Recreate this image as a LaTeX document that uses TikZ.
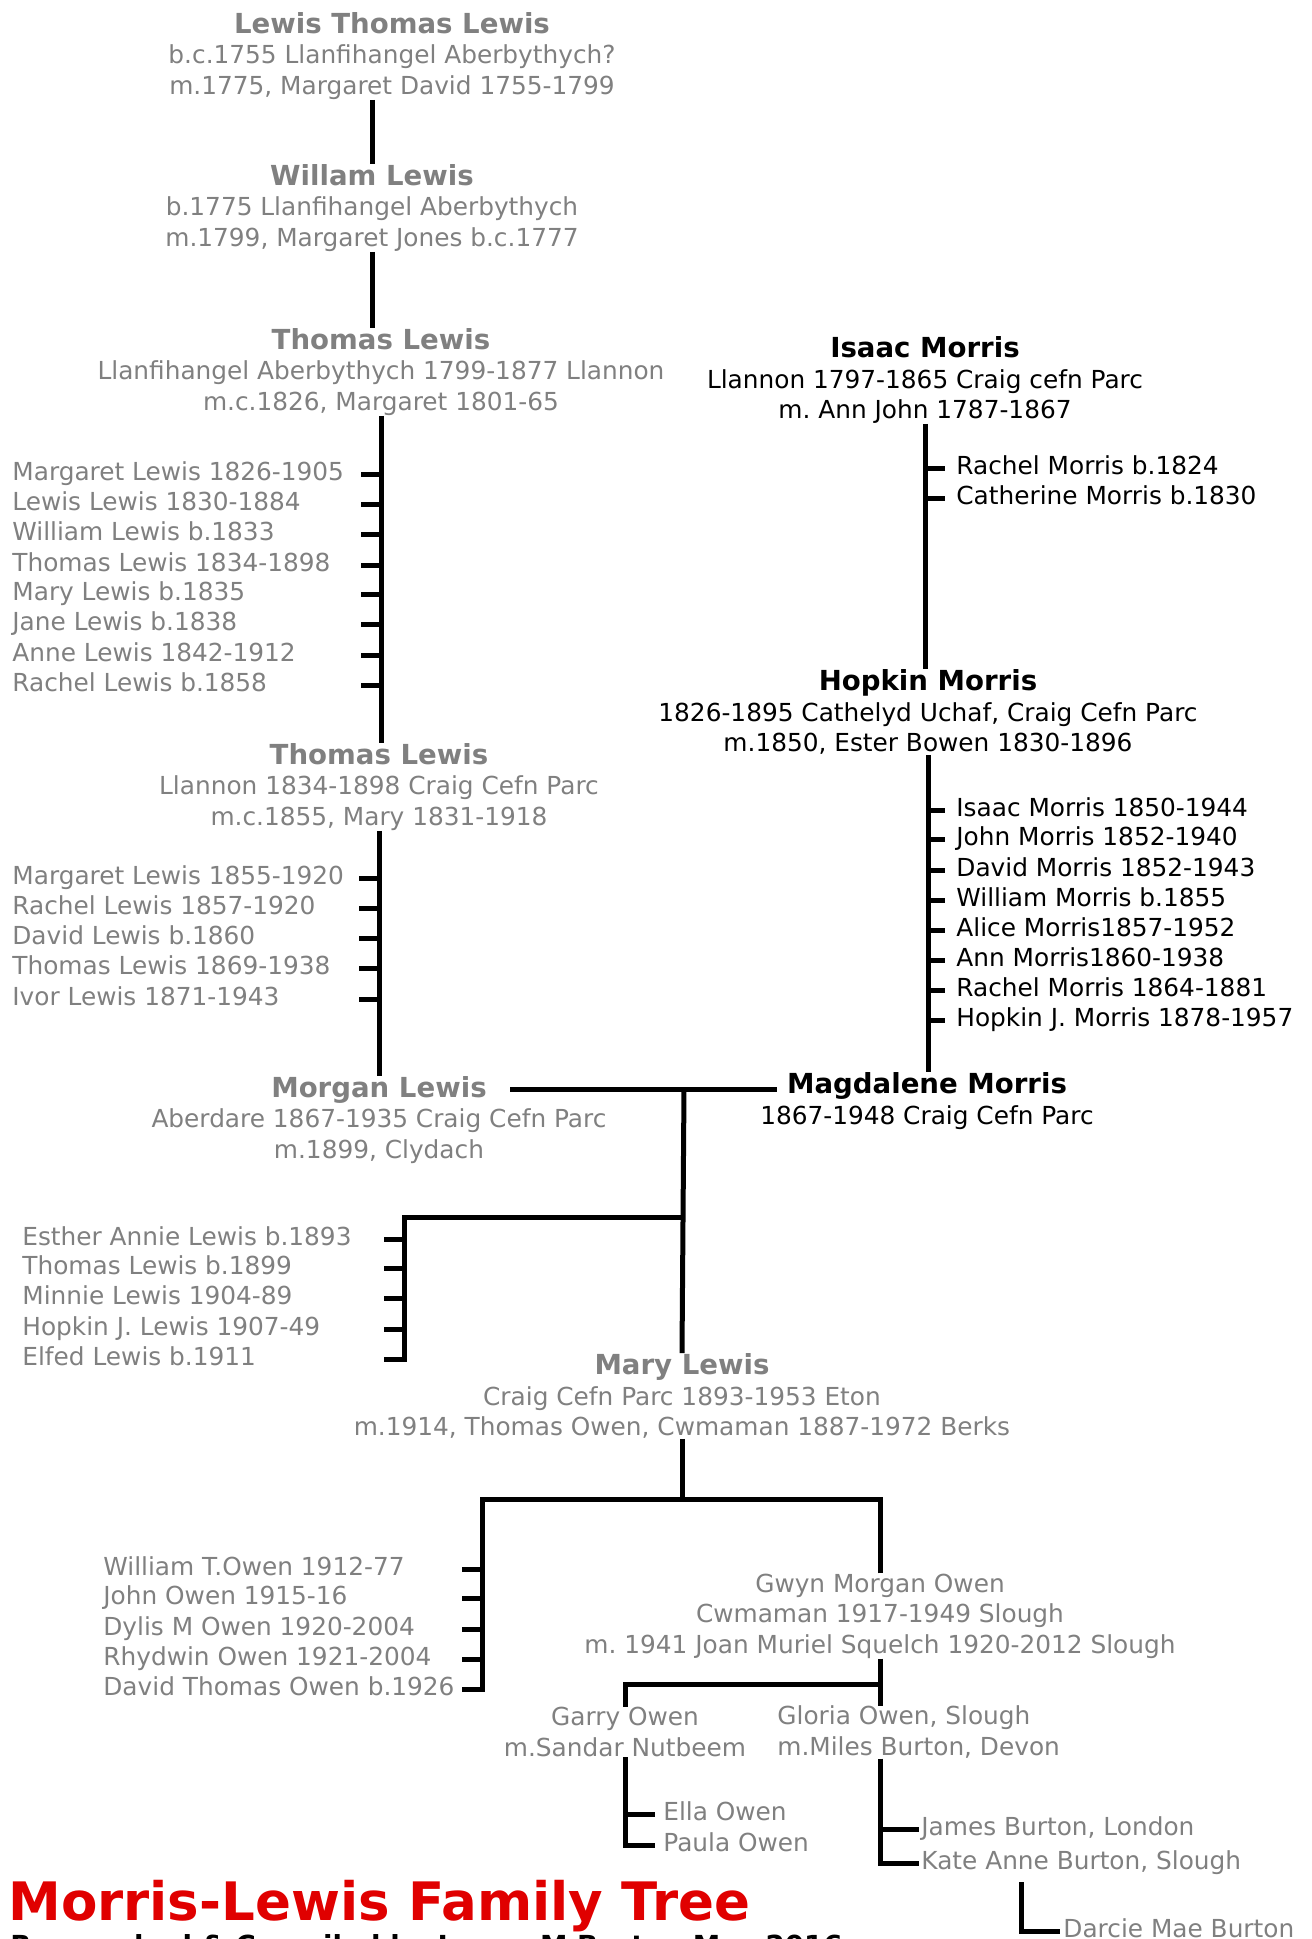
\documentclass[tikz,border=0pt]{standalone}
\usepackage{fontspec}
\setmainfont{DejaVu Sans}
\usepackage{xcolor}
\usepackage{tikz}

\definecolor{lgrey}{HTML}{808080}
\definecolor{treered}{HTML}{E00000}
\newcommand{\bodyfont}{\fontsize{12.4}{15.25}\selectfont}
\newcommand{\namefont}{\fontsize{13.8}{15.25}\selectfont\bfseries}
\frenchspacing

\begin{document}
\begin{tikzpicture}[x=0.5pt,y=-0.5pt,
    link/.style={line width=2.5pt},
    lewis/.style={align=center,inner sep=0pt,text=lgrey,font=\bodyfont},
    morris/.style={lewis,text=black},
    kid/.style={anchor=west,inner sep=0pt,yshift=-1pt,text height=9.4pt,text depth=2.9pt,text=lgrey,font=\bodyfont},
    mkid/.style={kid,text=black,inner xsep=5.5pt}]
    \useasboundingbox (0,0) rectangle (1312,1939);

    % Lewis line
    \node[lewis] (ltl) at (392,56) {{\namefont Lewis Thomas Lewis}\\b.c.1755 Llanfihangel Aberbythych?\\m.1775, Margaret David 1755-1799};
    \node[lewis] (wl) at (372,208) {{\namefont Willam Lewis}\\b.1775 Llanfihangel Aberbythych\\m.1799, Margaret Jones b.c.1777};
    \node[lewis] (tla) at (381,372) {{\namefont Thomas Lewis}\\Llanfihangel Aberbythych 1799-1877 Llannon\\m.c.1826, Margaret 1801-65};
    \node[lewis] (tlb) at (379,787) {{\namefont Thomas Lewis}\\Llannon 1834-1898 Craig Cefn Parc\\m.c.1855, Mary 1831-1918};
    \node[lewis] (mlw) at (379,1120) {{\namefont Morgan Lewis}\\Aberdare 1867-1935 Craig Cefn Parc\\m.1899, Clydach};

    % Morris line
    \node[morris] (im) at (925,380) {{\namefont Isaac Morris}\\Llannon 1797-1865 Craig cefn Parc\\m. Ann John 1787-1867};
    \node[morris] (hm) at (928,712) {{\namefont Hopkin Morris}\\1826-1895 Cathelyd Uchaf, Craig Cefn Parc\\m.1850, Ester Bowen 1830-1896};
    \node[morris] (mm) at (927,1101) {{\namefont Magdalene Morris}\\1867-1948 Craig Cefn Parc};

    % Owens
    \node[lewis] (maryl) at (682,1396) {{\namefont Mary Lewis}\\Craig Cefn Parc 1893-1953 Eton\\m.1914, Thomas Owen, Cwmaman 1887-1972 Berks};
    \node[lewis] (gmo) at (880,1616) {Gwyn Morgan Owen\\Cwmaman 1917-1949 Slough\\m. 1941 Joan Muriel Squelch 1920-2012 Slough};
    \node[lewis] (garry) at (625,1732) {Garry Owen\\m.Sandar Nutbeem};
    \node[lewis,align=left,anchor=west] (gloria) at (777,1732) {Gloria Owen, Slough\\m.Miles Burton, Devon};

    % children of Thomas Lewis 1799-1877
    \node[kid] (tk1) at (12,472) {Margaret Lewis 1826-1905};
    \node[kid] (tk2) at (12,502) {Lewis Lewis 1830-1884};
    \node[kid] (tk3) at (12,532) {William Lewis b.1833};
    \node[kid] (tk4) at (12,563) {Thomas Lewis 1834-1898};
    \node[kid] (tk5) at (12,592) {Mary Lewis b.1835};
    \node[kid] (tk6) at (12,622) {Jane Lewis b.1838};
    \node[kid] (tk7) at (12,653) {Anne Lewis 1842-1912};
    \node[kid] (tk8) at (12,683) {Rachel Lewis b.1858};

    % children of Thomas Lewis 1834-1898
    \node[kid] (sk1) at (12,876) {Margaret Lewis 1855-1920};
    \node[kid] (sk2) at (12,906) {Rachel Lewis 1857-1920};
    \node[kid] (sk3) at (12,936) {David Lewis b.1860};
    \node[kid] (sk4) at (12,966) {Thomas Lewis 1869-1938};
    \node[kid] (sk5) at (12,997) {Ivor Lewis 1871-1943};

    % children of Isaac and Hopkin Morris
    \node[mkid] (ik1) at (945,466) {Rachel Morris b.1824};
    \node[mkid] (ik2) at (945,496) {Catherine Morris b.1830};
    \node[mkid] (hk1) at (945,808) {Isaac Morris 1850-1944};
    \node[mkid] (hk2) at (945,837) {John Morris 1852-1940};
    \node[mkid] (hk3) at (945,868) {David Morris 1852-1943};
    \node[mkid] (hk4) at (945,898) {William Morris b.1855};
    \node[mkid] (hk5) at (945,928) {Alice Morris1857-1952};
    \node[mkid] (hk6) at (945,958) {Ann Morris1860-1938};
    \node[mkid] (hk7) at (945,988) {Rachel Morris 1864-1881};
    \node[mkid] (hk8) at (945,1018) {Hopkin J. Morris 1878-1957};

    % children of Morgan and Magdalene
    \node[kid] (mk1) at (22,1237) {Esther Annie Lewis b.1893};
    \node[kid] (mk2) at (22,1266) {Thomas Lewis b.1899};
    \node[kid] (mk3) at (22,1296) {Minnie Lewis 1904-89};
    \node[kid] (mk4) at (22,1327) {Hopkin J. Lewis 1907-49};
    \node[kid] (mk5) at (22,1357) {Elfed Lewis b.1911};

    % children of Mary Lewis
    \node[kid] (ok1) at (103,1567) {William T.Owen 1912-77};
    \node[kid] (ok2) at (103,1596) {John Owen 1915-16};
    \node[kid] (ok3) at (103,1627) {Dylis M Owen 1920-2004};
    \node[kid] (ok4) at (103,1657) {Rhydwin Owen 1921-2004};
    \node[kid] (ok5) at (103,1687) {David Thomas Owen b.1926};

    \node[kid,inner xsep=4pt] (ella) at (655,1812) {Ella Owen};
    \node[kid,inner xsep=4pt] (paula) at (655,1843) {Paula Owen};
    \node[kid,inner xsep=1pt] (james) at (919,1827) {James Burton, London};
    \node[kid,inner xsep=1pt] (kate) at (919,1861) {Kate Anne Burton, Slough};
    \node[kid,inner xsep=1.5pt] (darcie) at (1060,1929) {Darcie Mae Burton};

    \node[anchor=base west,inner sep=0pt,text=treered,font=\fontsize{26.5}{30}\selectfont\bfseries] (title) at (8,1920) {Morris-Lewis Family Tree};
    \node[anchor=base west,inner sep=0pt,font=\fontsize{13.8}{16}\selectfont\bfseries] (credit) at (10,1955) {Researched \& Compiled by James M Burton May 2016};

    \coordinate (wedl) at (510,1089);
    \coordinate (wed) at (684,1089);
    \coordinate (wedr) at (777,1089);
    \coordinate (fork) at (684,1217);
    \coordinate (mtrunk) at (404,1217);
    \coordinate (ot) at (482,1499);
    \coordinate (gsplit) at (0,1684);
    \coordinate (dtop) at (1021,1882);

    \draw[link] (wl.north |- ltl.south) -- (wl.north);
    \draw[link] (wl.south) -- (wl.south |- tla.north);
    \draw[link] (tla.south) -- (tla.south |- tlb.north);
    \draw[link] (tlb.south) -- (tlb.south |- mlw.north);
    \foreach \i in {1,...,8}
        \draw[link] (tla.south |- tk\i) -- ++(-20,0);
    \foreach \i in {1,...,5}
        \draw[link] (tlb.south |- sk\i) -- ++(-20,0);

    \draw[link] (im.south) -- (im.south |- hm.north);
    \draw[link] (hm.south) -- (hm.south |- mm.north);
    \foreach \i in {1,2}
        \draw[link] (im.south |- ik\i) -- (ik\i.west);
    \foreach \i in {1,...,8}
        \draw[link] (hm.south |- hk\i) -- (hk\i.west);

    \draw[link] (wedl) -- (wedr);
    \draw[link] (wed) -- (maryl.north);
    \draw[link] (fork) -- (mtrunk) -- (mtrunk |- mk5) -- ++(-20,0);
    \foreach \i in {1,...,4}
        \draw[link] (mtrunk |- mk\i) -- ++(-20,0);

    \draw[link] (maryl.south) -- (maryl.south |- ot);
    \draw[link] (gmo.north) |- (ot) -- (ot |- ok5) -- ++(-20,0);
    \foreach \i in {1,...,4}
        \draw[link] (ot |- ok\i) -- ++(-20,0);

    \draw[link] (gmo.south) -- (gmo.south |- gloria.north);
    \draw[link] (garry.north) |- (gsplit -| gmo.south);
    \draw[link] (garry.south) |- (paula.west);
    \draw[link] (garry.south |- ella) -- (ella.west);
    \draw[link] (gmo.south |- gloria.south) |- (kate.west);
    \draw[link] (gmo.south |- james) -- (james.west);
    \draw[link] (dtop) |- (darcie.west);
\end{tikzpicture}
\end{document}
